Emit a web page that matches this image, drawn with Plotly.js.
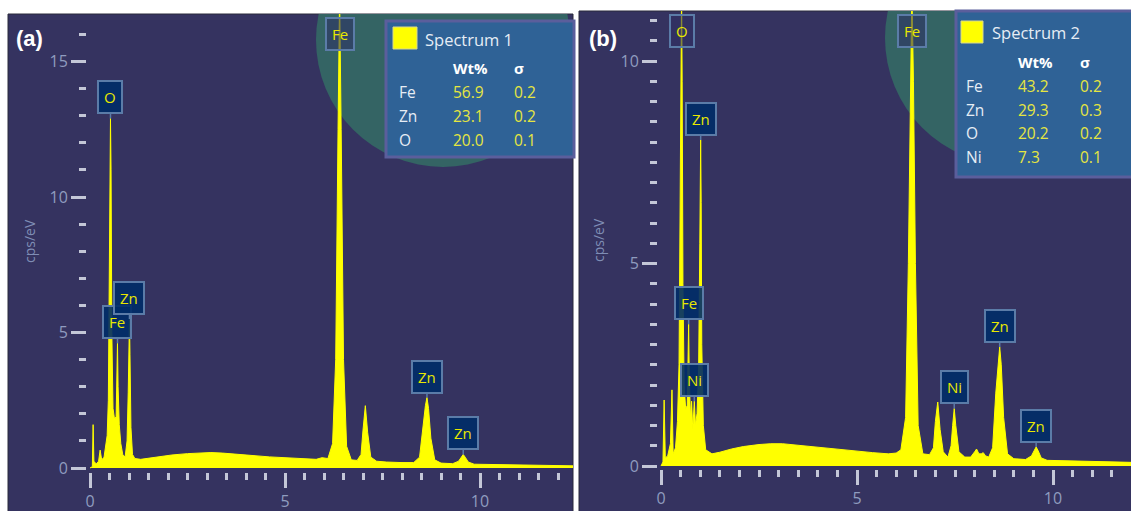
<!DOCTYPE html>
<html><head><meta charset="utf-8">
<script src="https://cdn.plot.ly/plotly-3.0.1.min.js"></script>
<style>html,body{margin:0;padding:0;background:#fff;}#chart{width:1131px;height:511px;}</style>
</head><body><div id="chart"></div>
<script>
// ---- Spectrum 1 (panel a) ----
const energyA = [0.00,0.06,0.08,0.10,0.16,0.22,0.26,0.30,0.36,0.42,0.44,0.47,0.49,0.51,0.525,0.54,0.56,0.59,0.63,0.67,0.69,0.705,0.72,0.75,0.79,0.84,0.90,0.95,0.98,1.00,1.012,1.025,1.05,1.09,1.15,1.30,1.50,1.80,2.10,2.50,2.80,3.10,3.40,3.80,4.20,4.60,5.00,5.40,5.80,5.95,6.10,6.22,6.30,6.36,6.40,6.44,6.50,6.58,6.70,6.85,6.95,7.00,7.06,7.12,7.20,7.35,7.60,8.00,8.30,8.45,8.54,8.60,8.64,8.68,8.74,8.84,9.00,9.30,9.45,9.52,9.57,9.62,9.70,9.85,10.20,10.60,11.00,11.50,12.00,12.40];
const countsA = [0.00,0.05,1.60,0.25,0.15,0.25,0.66,0.30,0.40,0.90,1.20,2.50,6.00,11.0,12.90,11.0,5.00,2.20,1.80,1.90,3.50,4.60,3.00,1.60,0.90,0.50,0.40,1.00,2.80,4.80,5.50,4.20,1.50,0.50,0.35,0.32,0.36,0.42,0.48,0.53,0.56,0.57,0.55,0.50,0.45,0.41,0.38,0.34,0.32,0.38,0.35,0.90,4.00,12.5,17.5,12.5,4.00,0.80,0.30,0.28,0.50,1.40,2.30,1.30,0.40,0.25,0.22,0.20,0.20,0.40,1.60,2.30,2.60,2.20,1.10,0.30,0.18,0.16,0.25,0.42,0.50,0.40,0.22,0.14,0.13,0.12,0.11,0.10,0.09,0.08];
const peakElemA = ['O','Fe','Zn','Fe','Zn','Zn'];
const peakEnergyA = [0.525,0.705,1.012,6.40,8.64,9.57];
const legendElemA = ['Fe','Zn','O'];
const legendWtA = ['56.9','23.1','20.0'];
const legendSigA = ['0.2','0.2','0.1'];
const yTickValsA = [0,5,10,15];

// ---- Spectrum 2 (panel b) ----
const energyB = [0.00,0.05,0.08,0.11,0.17,0.24,0.28,0.31,0.37,0.42,0.46,0.49,0.51,0.525,0.54,0.56,0.59,0.63,0.67,0.69,0.705,0.72,0.75,0.78,0.81,0.85,0.88,0.92,0.96,0.99,1.00,1.012,1.025,1.04,1.08,1.14,1.30,1.50,1.80,2.10,2.50,2.80,3.10,3.40,3.80,4.20,4.60,5.00,5.40,5.80,6.00,6.12,6.24,6.31,6.36,6.40,6.44,6.49,6.56,6.68,6.85,6.95,7.00,7.06,7.12,7.20,7.32,7.40,7.44,7.48,7.52,7.60,7.75,7.90,8.00,8.05,8.11,8.17,8.22,8.28,8.36,8.46,8.54,8.60,8.64,8.68,8.74,8.84,9.00,9.30,9.45,9.52,9.57,9.62,9.70,9.85,10.20,10.60,11.00,11.50,12.00];
const countsB = [0.00,0.10,1.63,0.20,0.25,0.55,1.88,0.30,0.45,1.10,2.50,6.00,9.50,11.8,9.50,4.50,2.00,1.40,1.50,2.60,3.50,2.30,1.20,1.60,0.90,1.60,1.00,1.30,2.40,5.50,7.20,8.05,6.50,3.00,1.00,0.40,0.30,0.34,0.42,0.48,0.53,0.55,0.55,0.52,0.48,0.44,0.40,0.36,0.33,0.30,0.32,0.40,1.20,5.00,9.50,11.8,9.50,5.00,1.00,0.30,0.28,0.45,1.10,1.58,0.90,0.35,0.22,0.50,1.00,1.42,1.00,0.35,0.22,0.22,0.35,0.42,0.30,0.30,0.33,0.25,0.22,0.45,1.80,2.60,2.94,2.50,1.20,0.30,0.18,0.16,0.25,0.38,0.47,0.38,0.20,0.14,0.13,0.12,0.11,0.10,0.09];
const peakElemB = ['O','Fe','Ni','Zn','Fe','Ni','Zn','Zn'];
const peakEnergyB = [0.525,0.705,0.85,1.012,6.40,7.48,8.64,9.57];
const legendElemB = ['Fe','Zn','O','Ni'];
const legendWtB = ['43.2','29.3','20.2','7.3'];
const legendSigB = ['0.2','0.3','0.2','0.1'];
const yTickValsB = [0,5,10];

const xTickVals = [0,5,10];
const yTitle = 'cps/eV';

// ---- layout geometry (pixels) ----
const W = 1131, H = 511;
const PA = {left:87, right:573, top:14, bottom:472, x0px:90, y0px:468, pxX:39, pxY:27.1};
const PB = {left:658, right:1131, top:11, bottom:469, x0px:661, y0px:466, pxX:39.2, pxY:40.5};
const xr = P => [(P.left - P.x0px)/P.pxX, (P.right - P.x0px)/P.pxX];
const yr = P => [(P.y0px - P.bottom)/P.pxY, (P.y0px - P.top)/P.pxY];
const px2x = (P, px) => (px - P.x0px)/P.pxX;
const py2y = (P, py) => (P.y0px - py)/P.pxY;
const fx = px => px / W, fy = py => 1 - py / H;

const BG = '#353360', TEAL = '#346464', TICK = '#c4c7d7', TLAB = '#8f9cbf';
const FONT = 'Open Sans, Noto Sans, sans-serif';

function xaxisCfg(P, anchor) {
  return {domain:[fx(P.left), fx(P.right)], range:xr(P), anchor:anchor,
    showgrid:false, zeroline:false, showline:false,
    tickmode:'array', tickvals:xTickVals, ticktext:xTickVals.map(String),
    ticks:'outside', ticklen:15, tickwidth:3, tickcolor:TICK,
    tickfont:{size:16, color:TLAB, family:FONT},
    minor:{tickmode:'linear', tick0:0, dtick:0.5, ticks:'outside', ticklen:7, tickwidth:3, tickcolor:TICK, showgrid:false},
    fixedrange:true};
}
function yaxisCfg(P, anchor, vals, minorD) {
  return {domain:[fy(P.bottom), fy(P.top)], range:yr(P), anchor:anchor,
    showgrid:false, zeroline:false, showline:false,
    tickmode:'array', tickvals:vals, ticktext:vals.map(String),
    ticks:'outside', ticklen:15, tickwidth:3, tickcolor:TICK,
    tickfont:{size:16, color:TLAB, family:FONT},
    minor:{tickmode:'linear', tick0:0, dtick:minorD, ticks:'outside', ticklen:7, tickwidth:3, tickcolor:TICK, showgrid:false},
    fixedrange:true};
}

const traces = [
  {x:energyA, y:countsA, xaxis:'x', yaxis:'y', type:'scatter', mode:'lines', fill:'tozeroy',
   fillcolor:'#ffff00', line:{color:'#ffff00', width:1}, hoverinfo:'skip', showlegend:false},
  {x:energyB, y:countsB, xaxis:'x2', yaxis:'y2', type:'scatter', mode:'lines', fill:'tozeroy',
   fillcolor:'#ffff00', line:{color:'#ffff00', width:1}, hoverinfo:'skip', showlegend:false}
];

function circleShape(P, xref, yref, cx, cy, r) {
  return {type:'circle', xref:xref, yref:yref, layer:'below',
    x0:px2x(P, cx - r), x1:px2x(P, cx + r), y0:py2y(P, cy + r), y1:py2y(P, cy - r),
    fillcolor:TEAL, line:{width:0}};
}
function rectPx(x0, y0, x1, y1, fill, lineColor, lw, layer) {
  return {type:'rect', xref:'paper', yref:'paper', layer:layer,
    x0:fx(x0), x1:fx(x1), y0:fy(y1), y1:fy(y0), fillcolor:fill,
    line:{color:lineColor, width:lw}};
}

const shapes = [
  rectPx(8, 14, 573, 515, BG, '#2b2b3a', 1, 'below'),
  rectPx(579, 11, 1135, 515, BG, '#2b2b3a', 1, 'below'),
  circleShape(PA, 'x', 'y', 443, 40, 127),
  circleShape(PB, 'x2', 'y2', 1012, 38, 127),
  rectPx(386, 21, 574, 157, '#2f6296', '#5b5e9c', 3, 'above'),
  rectPx(393, 27, 417, 49, '#ffff00', '#d8d890', 1, 'above'),
  rectPx(956, 11, 1134, 177, '#2f6296', '#5b5e9c', 3, 'above'),
  rectPx(961, 21, 983, 43, '#ffff00', '#d8d890', 1, 'above')
];

const annotations = [];
function textPx(px, py, text, size, color, xanchor) {
  annotations.push({xref:'paper', yref:'paper', x:fx(px), y:fy(py), text:text, showarrow:false,
    xanchor:xanchor || 'left', yanchor:'middle', font:{size:size, color:color, family:FONT}});
}
// axis titles (rotated)
[[30, 241], [598, 240]].forEach(p => {
  annotations.push({xref:'paper', yref:'paper', x:fx(p[0]), y:fy(p[1]), text:yTitle, textangle:-90,
    showarrow:false, xanchor:'center', yanchor:'middle', font:{size:14, color:'#7f8db5', family:FONT}});
});
// panel letters
annotations.push({xref:'paper', yref:'paper', x:fx(14), y:fy(38), text:'<b>(a)</b>', showarrow:false,
  xanchor:'left', yanchor:'middle', font:{size:22, color:'#ffffff', family:'Liberation Sans, Arial, sans-serif'}});
annotations.push({xref:'paper', yref:'paper', x:fx(587), y:fy(38), text:'<b>(b)</b>', showarrow:false,
  xanchor:'left', yanchor:'middle', font:{size:22, color:'#ffffff', family:'Liberation Sans, Arial, sans-serif'}});

// legends
function legendBlock(title, elems, wts, sigs, L) {
  textPx(L.titleX, L.titleY, title, 16.5, '#e6edf5');
  textPx(L.valX, L.headY, '<b>Wt%</b>', 15, '#ffffff');
  textPx(L.sigX, L.headY, '<b>σ</b>', 15, '#ffffff');
  elems.forEach((el, i) => {
    const y = L.rowY0 + i * L.rowDy;
    textPx(L.elX, y, el, 15.5, '#e6edf5');
    textPx(L.valX, y, wts[i], 15.5, '#e6e640');
    textPx(L.sigX, y, sigs[i], 15.5, '#e6e640');
  });
}
legendBlock('Spectrum 1', legendElemA, legendWtA, legendSigA,
  {titleX:423, titleY:39, headY:68, elX:397, valX:451, sigX:512, rowY0:92, rowDy:24});
legendBlock('Spectrum 2', legendElemB, legendWtB, legendSigB,
  {titleX:990, titleY:33, headY:62, elX:964, valX:1016, sigX:1078, rowY0:86, rowDy:23.7});

// element peak markers
function peakLabels(elems, energies, ex, cy, xref, yref, ymax) {
  elems.forEach((el, i) => {
    const idx = ex.findIndex(v => Math.abs(v - energies[i]) < 1e-9);
    const yv = cy[idx];
    const base = {xref:xref, yref:yref, x:energies[i], text:el,
      font:{size:15, color:'#e8e800', family:FONT},
      bordercolor:'#5b7ca8', borderwidth:2, borderpad:5};
    if (yv > ymax - 0.5) {
      annotations.push(Object.assign(base, {y:ymax, yanchor:'top', yshift:-3, showarrow:false,
        bgcolor:'rgba(45,45,100,0.55)'}));
    } else {
      annotations.push(Object.assign(base, {y:yv, showarrow:true, arrowhead:0, arrowwidth:1.5,
        arrowcolor:'#5b7ca8', ax:0, ay:-21, bgcolor:'rgba(0,44,104,0.9)'}));
    }
  });
}
peakLabels(peakElemA, peakEnergyA, energyA, countsA, 'x', 'y', yr(PA)[1]);
peakLabels(peakElemB, peakEnergyB, energyB, countsB, 'x2', 'y2', yr(PB)[1]);

const layout = {
  width:W, height:H, margin:{l:0, r:0, t:0, b:0},
  paper_bgcolor:'#ffffff', plot_bgcolor:'rgba(0,0,0,0)', showlegend:false,
  xaxis:xaxisCfg(PA, 'y'), yaxis:yaxisCfg(PA, 'x', yTickValsA, 1),
  xaxis2:xaxisCfg(PB, 'y2'), yaxis2:yaxisCfg(PB, 'x2', yTickValsB, 0.5),
  shapes:shapes, annotations:annotations
};
Plotly.newPlot('chart', traces, layout, {staticPlot:true, displayModeBar:false});
</script></body></html>
